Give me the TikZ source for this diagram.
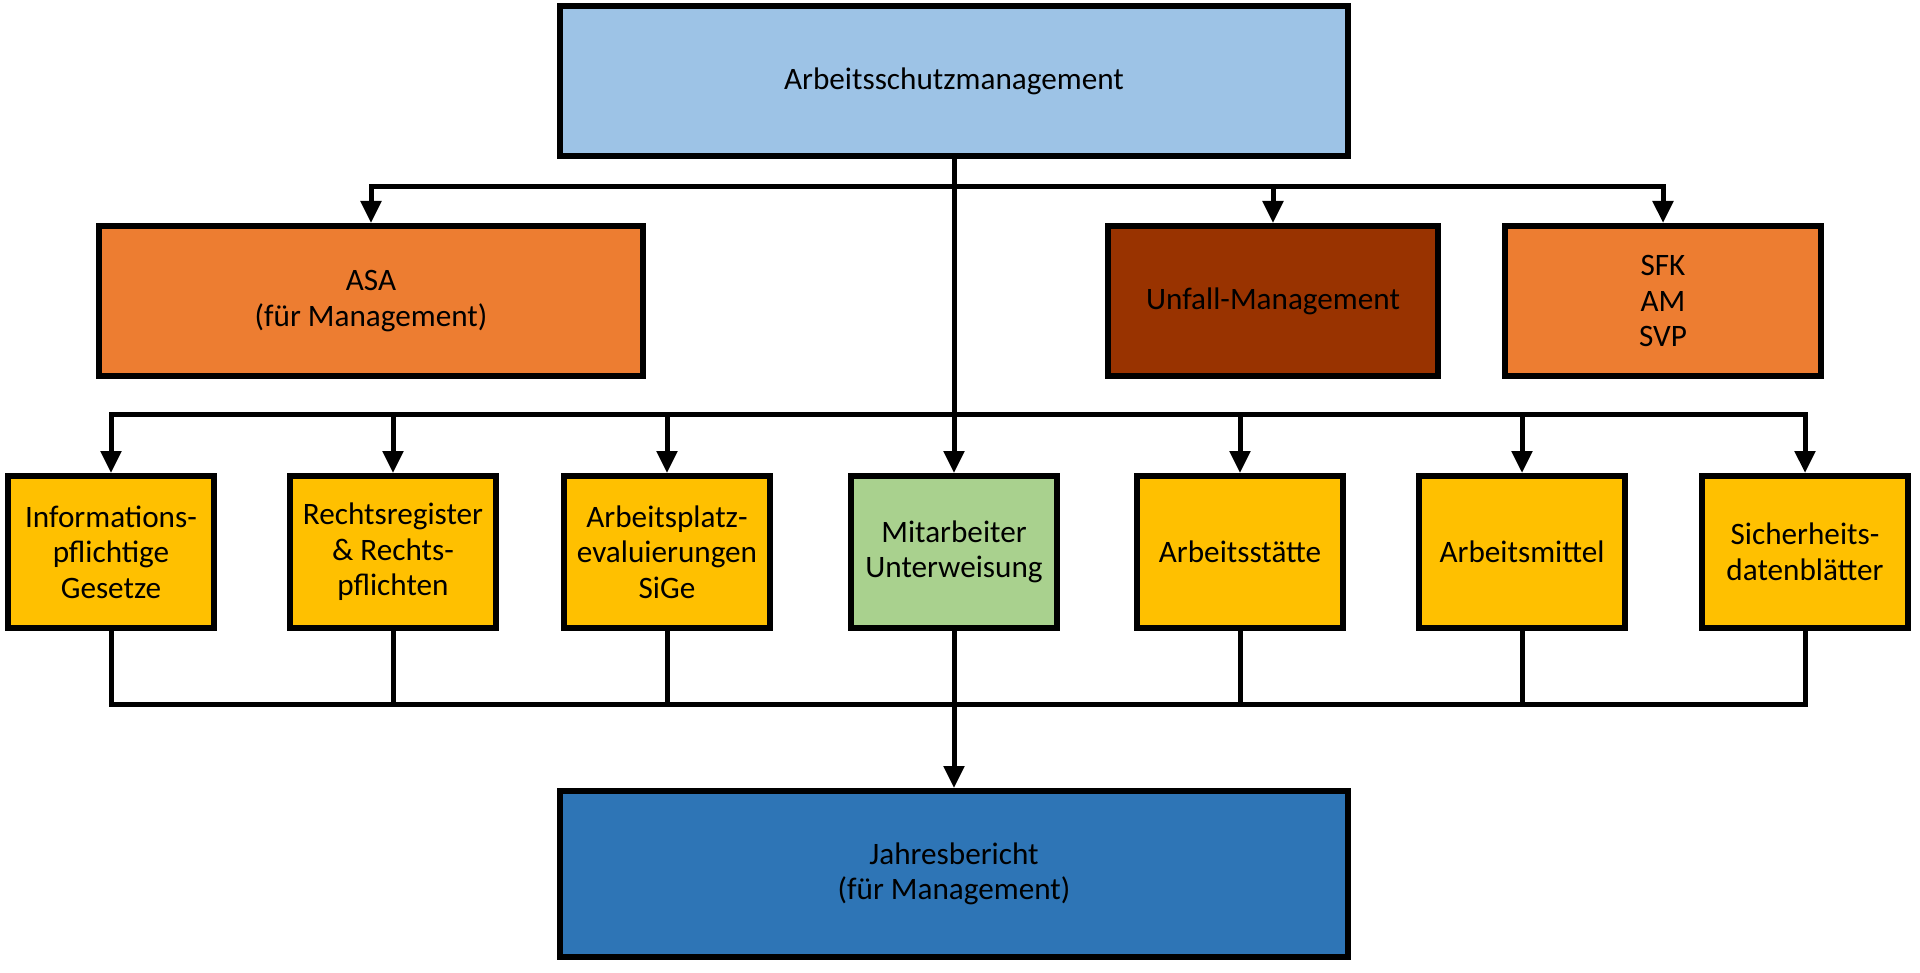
\documentclass[tikz,border=0pt]{standalone}
\usepackage{fontspec}
\setmainfont{Carlito}
\usepackage{xcolor}
\usetikzlibrary{arrows.meta}
\definecolor{topblue}{HTML}{9DC3E6}
\definecolor{asaorange}{HTML}{ED7D31}
\definecolor{unfallbrown}{HTML}{993300}
\definecolor{rowyellow}{HTML}{FFC000}
\definecolor{rowgreen}{HTML}{A9D18E}
\definecolor{botblue}{HTML}{2E75B6}
\tikzstyle{box} = [draw=black, line width=3pt, align=center, inner sep=0pt,
  font=\fontsize{15.6}{17.8}\selectfont]
\tikzstyle{wide} = [box, minimum width=394pt, minimum height=75pt]
\tikzstyle{mid} = [box, minimum height=75pt]
\tikzstyle{small} = [box, minimum width=103pt, minimum height=76pt]
\tikzstyle{link} = [line width=2.5pt]
\tikzstyle{arr} = [link, -{Triangle[length=11pt,width=10pt]}]

\begin{document}
\begin{tikzpicture}[x=0.5pt, y=-0.5pt]
    \useasboundingbox (0,0) rectangle (1920,973);
    % top
    \node[wide, fill=topblue] (asm) at (954,81) {Arbeitsschutzmanagement};
    % second row
    \node[mid, fill=asaorange, minimum width=272pt] (asa) at (371,301) {ASA\\(für Management)};
    \node[mid, fill=unfallbrown, minimum width=165pt] (unfall) at (1273,301) {Unfall-Management};
    \node[mid, fill=asaorange, minimum width=158pt] (sfk) at (1663,301) {SFK\\AM\\SVP};
    % third row
    \node[small, fill=rowyellow] (info) at (111,552) {Informations-\\pflichtige\\Gesetze};
    \node[small, fill=rowyellow] (recht) at (393,552) {Rechtsregister\\\& Rechts-\\pflichten};
    \node[small, fill=rowyellow] (eval) at (667,552) {Arbeitsplatz-\\evaluierungen\\SiGe};
    \node[small, fill=rowgreen] (unterw) at (954,552) {Mitarbeiter\\Unterweisung};
    \node[small, fill=rowyellow] (staette) at (1240,552) {Arbeitsstätte};
    \node[small, fill=rowyellow] (mittel) at (1522,552) {Arbeitsmittel};
    \node[small, fill=rowyellow] (sdb) at (1805,552) {Sicherheits-\\datenblätter};
    % bottom
    \node[wide, fill=botblue, minimum height=83pt] (jb) at (954,874) {Jahresbericht\\(für Management)};

    % buses
    \coordinate (upbus) at (954,187);
    \coordinate (lowbus) at (954,414);
    \coordinate (botbus) at (954,704);

    \draw[arr] (asm.south) -- (unterw.north);
    \draw[arr] (upbus) -| (asa.north);
    \draw[arr] (upbus) -| (unfall.north);
    \draw[arr] (upbus) -| (sfk.north);
    \foreach \n in {info,recht,eval,staette,mittel,sdb} {
      \draw[arr] (lowbus) -| (\n.north);
      \draw[link] (\n.south) |- (botbus);
    }
    \draw[arr] (unterw.south) -- (jb.north);
  \end{tikzpicture}
\end{document}
